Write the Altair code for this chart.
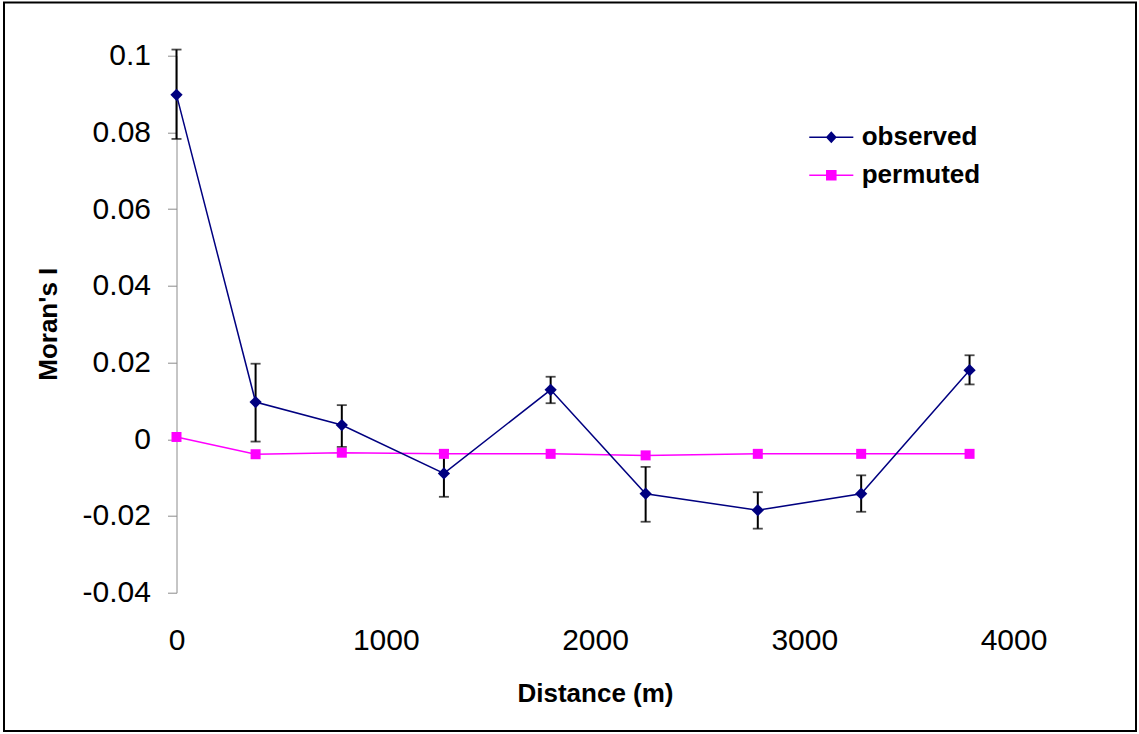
import altair as alt
import pandas as pd

# ---- data ----
distance = [0, 378, 790, 1278, 1788, 2242, 2778, 3272, 3790]
observed = [0.0898, 0.0097, 0.0037, -0.0089, 0.0129, -0.0142, -0.0185, -0.0142, 0.0180]
obs_hi = [0.1016, 0.0197, 0.0089, -0.0028, 0.0163, -0.0072, -0.0138, -0.0094, 0.0219]
obs_lo = [0.0783, -0.0006, -0.0020, -0.0150, 0.0094, -0.0215, -0.0233, -0.0189, 0.0143]
permuted = [0.0006, -0.0039, -0.0035, -0.0038, -0.0038, -0.0042, -0.0038, -0.0038, -0.0038]

series_names = ["observed", "permuted"]
series_colors = ["#000080", "#FF00FF"]
x_ticks = [0, 1000, 2000, 3000, 4000]
y_ticks = [-0.04, -0.02, 0, 0.02, 0.04, 0.06, 0.08, 0.1]

FONT = "Liberation Sans"

df = pd.DataFrame({
    "d": distance, "obs": observed, "hi": obs_hi, "lo": obs_lo, "perm": permuted
})
legend_df = pd.DataFrame({"series": series_names})

W, H = 837, 537
PADL, PADT = 176.5, 55.7

x_enc = alt.X("d:Q", scale=alt.Scale(domain=[0, 4000], nice=False, zero=False),
              axis=alt.Axis(values=x_ticks, title="Distance (m)", grid=False,
                            domain=False, ticks=False, tickSize=0, labelFlush=False,
                            labelOverlap=False, labelFontSize=30, labelPadding=33,
                            format="d",
                            labelFont=FONT, labelColor="black",
                            titleFont=FONT, titleFontSize=26, titleFontWeight="bold",
                            titleColor="black", titleBaseline="alphabetic",
                            titleY=109))
y_scale = alt.Scale(domain=[-0.04, 0.1], nice=False, zero=False)
y_axis = alt.Axis(values=y_ticks, title="Moran's I", grid=False,
                  domainColor="#8c8c8c", domainWidth=1, tickColor="#8c8c8c",
                  tickSize=9, labelFontSize=30, labelFont=FONT, labelColor="black",
                  labelPadding=17, labelFlush=False, labelOverlap=False,
                  labelExpr="datum.value == 0 ? '0' : toString(round(datum.value*100)/100)",
                  titleFont=FONT, titleFontSize=26, titleFontWeight="bold",
                  titleColor="black", titleAngle=270, titleAlign="center",
                  titleBaseline="alphabetic", titleX=-120, titleY=268)

base = alt.Chart(df)

err_rule = base.mark_rule(color="black", strokeWidth=2).encode(
    x=x_enc, y=alt.Y("lo:Q", scale=y_scale, axis=y_axis), y2="hi:Q")
cap_hi = base.mark_tick(color="black", orient="horizontal", size=10, thickness=1.8).encode(
    x="d:Q", y=alt.Y("hi:Q", scale=y_scale))
cap_lo = base.mark_tick(color="black", orient="horizontal", size=10, thickness=1.8).encode(
    x="d:Q", y=alt.Y("lo:Q", scale=y_scale))

perm_line = base.mark_line(color=series_colors[1], strokeWidth=1.5).encode(
    x="d:Q", y=alt.Y("perm:Q", scale=y_scale))
perm_pts = base.mark_point(shape="square", filled=True, opacity=1, size=100,
                           color=series_colors[1]).encode(
    x="d:Q", y=alt.Y("perm:Q", scale=y_scale))
obs_line = base.mark_line(color=series_colors[0], strokeWidth=1.5).encode(
    x="d:Q", y=alt.Y("obs:Q", scale=y_scale))
obs_pts = base.mark_point(shape="diamond", filled=True, opacity=1, size=150,
                          color=series_colors[0]).encode(
    x="d:Q", y=alt.Y("obs:Q", scale=y_scale))

# legend symbols: line segment plus marker (unit box, scaled by sqrt(size)/2)
legend_paths = [
    "M-1.13,-0.04L1.13,-0.04L1.13,0.04L-1.13,0.04ZM0,-0.31L0.28,0L0,0.31L-0.28,0Z",
    "M-1.13,-0.04L1.13,-0.04L1.13,0.04L-1.13,0.04ZM-0.27,-0.27L0.27,-0.27L0.27,0.27L-0.27,0.27Z",
]
leg = alt.Legend(title=None, orient="none", legendX=635.3, legendY=62.1,
                 padding=0, symbolOffset=0, rowPadding=5, symbolSize=1521,
                 symbolStrokeWidth=0, labelOffset=10.9, labelFont=FONT,
                 labelFontSize=26, labelFontWeight="bold", labelColor="black",
                 labelBaseline="middle", symbolOpacity=1)
legend_layer = alt.Chart(legend_df).transform_filter("false").mark_point(
    filled=True, opacity=1).encode(
    color=alt.Color("series:N", scale=alt.Scale(domain=series_names, range=series_colors),
                    legend=leg),
    shape=alt.Shape("series:N", scale=alt.Scale(domain=series_names, range=legend_paths),
                    legend=leg),
)

border = alt.Chart(pd.DataFrame({"a": [0]})).mark_rect(
    fillOpacity=0, stroke="black", strokeWidth=2).encode(
    x=alt.value(4 - PADL), x2=alt.value(1136 - PADL),
    y=alt.value(2.5 - PADT), y2=alt.value(731 - PADT))

chart = alt.layer(
    err_rule, cap_hi, cap_lo, perm_line, obs_line, perm_pts, obs_pts, legend_layer, border
).properties(
    width=W, height=H, autosize="none",
    padding={"left": PADL, "top": PADT, "right": 1139 - PADL - W, "bottom": 734 - PADT - H},
    background="white",
).configure(font=FONT).configure_view(stroke=None)

chart.save("out.html", embed_options={"renderer": "svg", "actions": False})
